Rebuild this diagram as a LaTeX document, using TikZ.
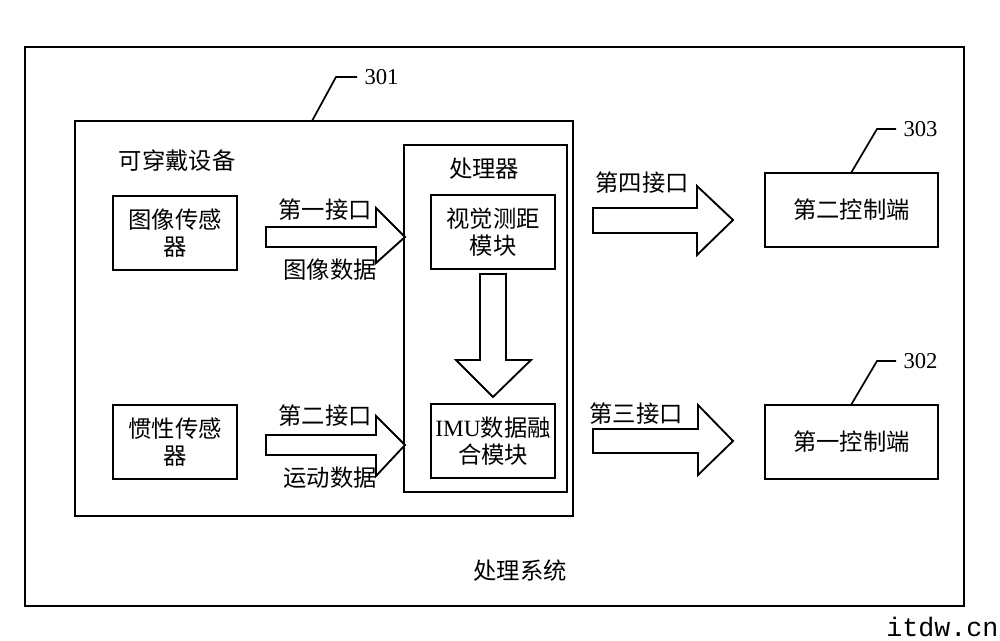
\documentclass[tikz,border=0pt]{standalone}
\usepackage{fontspec}
\setmainfont{Liberation Serif}
\newfontfamily\cjk{Noto Sans CJK SC}
\newfontfamily\wmfont{Liberation Mono}
\begin{document}
\begin{tikzpicture}[x=0.75pt,y=-0.75pt,
  every node/.style={font=\cjk\fontsize{17.5}{20.5}\selectfont, inner sep=0pt},
  frame/.style={draw, line width=1.3pt, inner sep=0pt, align=center},
  bigarrow/.style={draw, line width=1.4pt, fill=white, line join=miter},
  leader/.style={draw, line width=1.3pt},
  num/.style={font=\fontsize{17}{20}\selectfont, anchor=west}]
\useasboundingbox (0,0) rectangle (1000,640);
\fill[white] (0,0) rectangle (1000,640);

% outer processing system
\node (outer) [frame, minimum width=939*0.75pt, minimum height=559*0.75pt] at (494.5,326.5) {};
\node (wear) [frame, minimum width=498*0.75pt, minimum height=395*0.75pt] at (324,318.5) {};
\node (proc) [frame, minimum width=163*0.75pt, minimum height=347*0.75pt] at (485.5,318.5) {};

\node (img) [frame, minimum width=124*0.75pt, minimum height=74*0.75pt] at (175,233) {图像传感\\器};
\node (ins) [frame, minimum width=124*0.75pt, minimum height=74*0.75pt] at (175,442) {惯性传感\\器};
\node (vo) [frame, minimum width=124*0.75pt, minimum height=74*0.75pt] at (493,232) {视觉测距\\模块};
\node (fuse) [frame, minimum width=124*0.75pt, minimum height=74*0.75pt] at (493,441) {{\fontspec{Liberation Serif}IMU}数据融\\合模块};
\node (ctl2) [frame, minimum width=173*0.75pt, minimum height=74*0.75pt] at (851.5,210) {第二控制端};
\node (ctl1) [frame, minimum width=173*0.75pt, minimum height=74*0.75pt] at (851.5,442) {第一控制端};

% labels
\node (lwear) at (177,161) {可穿戴设备};
\node (lproc) at (484,169) {处理器};
\node (lsys) at (520,571) {处理系统};
\node (if1) at (325,210) {第一接口};
\node (d1) at (330,270) {图像数据};
\node (if2) at (325,416) {第二接口};
\node (d2) at (330,478) {运动数据};
\node (if4) at (642,183) {第四接口};
\node (if3) at (636,414) {第三接口};

% block arrows
\draw[bigarrow] (266,227) -- (376,227) -- (376,208) -- (405,237) -- (376,263) -- (376,247) -- (266,247) -- cycle;
\draw[bigarrow] (266,435) -- (376,435) -- (376,416) -- (405,445) -- (376,476) -- (376,455) -- (266,455) -- cycle;
\draw[bigarrow] (593,208) -- (697,208) -- (697,186) -- (733,220) -- (697,255) -- (697,233) -- (593,233) -- cycle;
\draw[bigarrow] (593,429) -- (698,429) -- (698,405) -- (733,441) -- (698,475) -- (698,453) -- (593,453) -- cycle;
\draw[bigarrow] (480,274) -- (506,274) -- (506,360) -- (531,360) -- (493,397) -- (456,360) -- (480,360) -- cycle;

% reference leaders
\coordinate (a301) at (312,121);
\coordinate (a303) at (851,173);
\coordinate (a302) at (851,405);
\draw[leader] (a301) -- (336,77) -- (357,77) node (n301) [num, xshift=5pt] {301};
\draw[leader] (a303) -- (877,129) -- (896,129) node (n303) [num, xshift=5pt] {303};
\draw[leader] (a302) -- (877,361) -- (896,361) node (n302) [num, xshift=5pt] {302};

% watermark
\node (wm) [anchor=base west, font=\wmfont\fontsize{20}{22}\selectfont] at (886,636) {itdw.cn};
\end{tikzpicture}
\end{document}
